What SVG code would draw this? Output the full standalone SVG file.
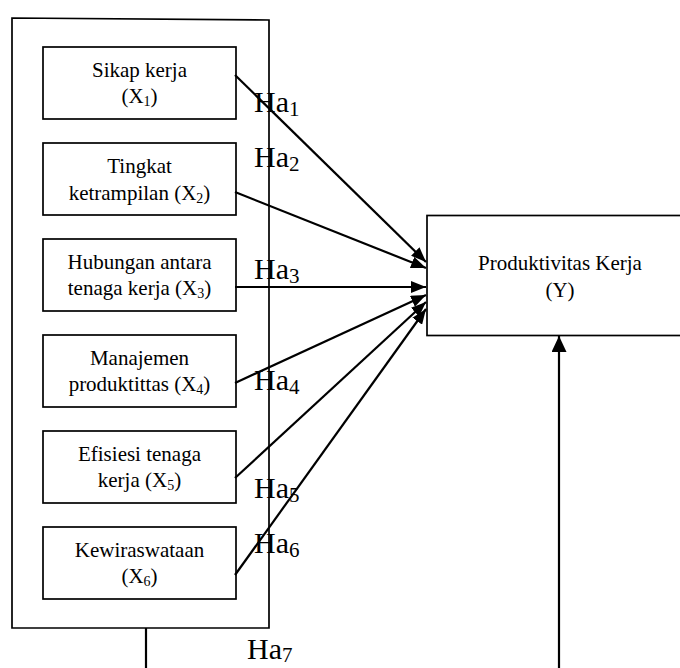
<svg xmlns="http://www.w3.org/2000/svg" width="680" height="668" viewBox="0 0 680 668">
<style>
.box{fill:#fff;stroke:#000;stroke-width:1.7}
.t{font-family:"Liberation Serif","Times New Roman",serif;font-size:21px;fill:#000;text-anchor:middle}
.ha{font-family:"Liberation Serif","Times New Roman",serif;font-size:30px;fill:#000}
.sub{font-size:14px}
.hs{font-size:21px}
.c{stroke:#000;stroke-width:2.2;fill:none}
</style>
<defs>
<marker id="ah" viewBox="0 0 15 12" refX="15" refY="6" markerWidth="15" markerHeight="12" markerUnits="userSpaceOnUse" orient="auto">
<path d="M0,0 L15,6 L0,12 Z" fill="#000"/>
</marker>
<marker id="ah2" viewBox="0 0 16 15" refX="16" refY="7.5" markerWidth="16" markerHeight="15" markerUnits="userSpaceOnUse" orient="auto">
<path d="M0,0 L16,7.5 L0,15 Z" fill="#000"/>
</marker>
</defs>
<g id="outer">
<path class="box" d="M12,18 L269,20 L269,628 L12,628 Z"/>
</g>
<g id="x1">
<rect class="box" x="43" y="47" width="193" height="72"/>
<text class="t" x="139.5" y="77">Sikap kerja</text>
<text class="t" x="139.5" y="103">(X<tspan class="sub" dy="3">1</tspan><tspan dy="-3">)</tspan></text>
</g>
<g id="x2">
<rect class="box" x="43" y="143" width="193" height="72"/>
<text class="t" x="139.5" y="173">Tingkat</text>
<text class="t" x="139.5" y="200">ketrampilan (X<tspan class="sub" dy="3">2</tspan><tspan dy="-3">)</tspan></text>
</g>
<g id="x3">
<rect class="box" x="43" y="239" width="193" height="72"/>
<text class="t" x="139.5" y="269">Hubungan antara</text>
<text class="t" x="139.5" y="295">tenaga kerja (X<tspan class="sub" dy="3">3</tspan><tspan dy="-3">)</tspan></text>
</g>
<g id="x4">
<rect class="box" x="43" y="335" width="193" height="72"/>
<text class="t" x="139.5" y="365">Manajemen</text>
<text class="t" x="139.5" y="391">produktittas (X<tspan class="sub" dy="3">4</tspan><tspan dy="-3">)</tspan></text>
</g>
<g id="x5">
<rect class="box" x="43" y="431" width="193" height="72"/>
<text class="t" x="139.5" y="461">Efisiesi tenaga</text>
<text class="t" x="139.5" y="487">kerja (X<tspan class="sub" dy="3">5</tspan><tspan dy="-3">)</tspan></text>
</g>
<g id="x6">
<rect class="box" x="43" y="527" width="193" height="72"/>
<text class="t" x="139.5" y="557">Kewiraswataan</text>
<text class="t" x="139.5" y="583">(X<tspan class="sub" dy="3">6</tspan><tspan dy="-3">)</tspan></text>
</g>
<g id="y">
<rect class="box" x="427" y="215.5" width="270" height="120"/>
<text class="t" x="560" y="270">Produktivitas Kerja</text>
<text class="t" x="560" y="297">(Y)</text>
</g>
<g id="connectors">
<line class="c" x1="235" y1="75" x2="426" y2="262" marker-end="url(#ah)"/>
<line class="c" x1="235" y1="192" x2="426" y2="268" marker-end="url(#ah)"/>
<line class="c" x1="235" y1="287" x2="426" y2="287" marker-end="url(#ah)"/>
<line class="c" x1="235" y1="383" x2="426" y2="295" marker-end="url(#ah)"/>
<line class="c" x1="235" y1="478" x2="426" y2="302" marker-end="url(#ah)"/>
<line class="c" x1="235" y1="575" x2="426" y2="309" marker-end="url(#ah)"/>
<line class="c" x1="146" y1="628" x2="146" y2="668"/>
<line class="c" x1="559" y1="668" x2="559" y2="336" marker-end="url(#ah2)"/>
</g>
<g id="labels">
<text class="ha" x="254" y="112">Ha<tspan class="hs" dy="4">1</tspan></text>
<text class="ha" x="254" y="167">Ha<tspan class="hs" dy="4">2</tspan></text>
<text class="ha" x="254" y="279">Ha<tspan class="hs" dy="4">3</tspan></text>
<text class="ha" x="254" y="390">Ha<tspan class="hs" dy="4">4</tspan></text>
<text class="ha" x="254" y="498">Ha<tspan class="hs" dy="4">5</tspan></text>
<text class="ha" x="254" y="553">Ha<tspan class="hs" dy="4">6</tspan></text>
<text class="ha" x="247" y="659">Ha<tspan class="hs" dy="3">7</tspan></text>
</g>
</svg>
